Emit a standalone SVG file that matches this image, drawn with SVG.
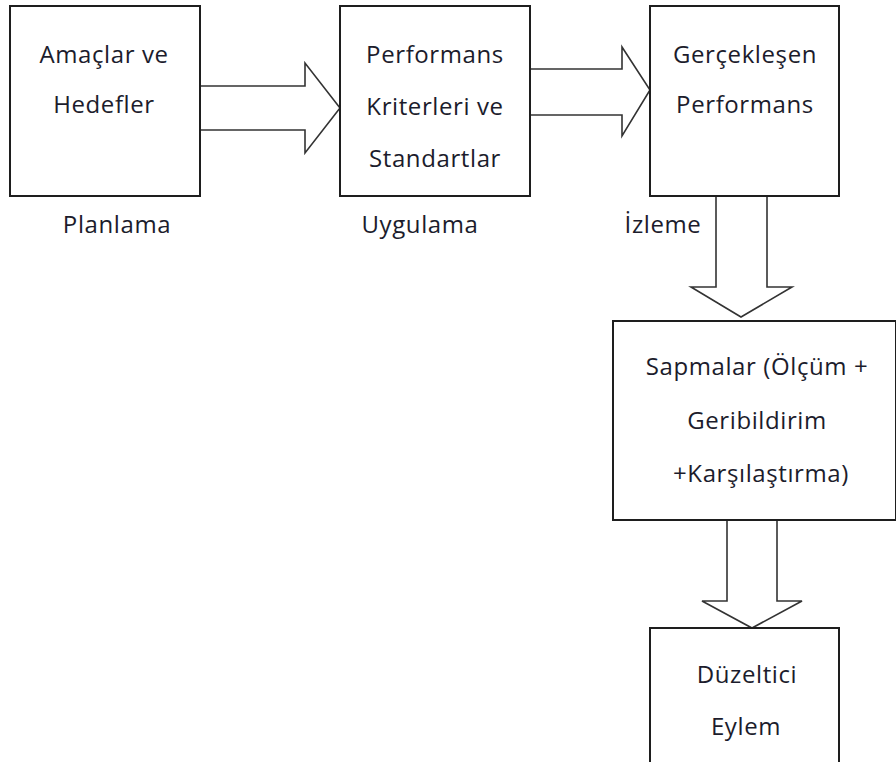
<svg xmlns="http://www.w3.org/2000/svg" width="896" height="762" viewBox="0 0 896 762">
  <style>
    .box { fill: #ffffff; stroke: #1e1e1e; stroke-width: 2; }
    .arrow { fill: #ffffff; stroke: #333333; stroke-width: 1.6; stroke-linejoin: miter; }
    text { font-family: "Open Sans", "Noto Sans", sans-serif; font-size: 24px; letter-spacing: 0.6px; fill: #1c1c2c; text-anchor: middle; }
  </style>
  <rect width="896" height="762" fill="#ffffff"/>

  <!-- block arrows between stages -->
  <g id="connectors">
    <polygon class="arrow" points="200,86 305,86 305,63 340,108 305,153 305,130 200,130"/>
    <polygon class="arrow" points="530,69 622,69 622,47 650,90 622,136 622,115 530,115"/>
    <polygon class="arrow" points="716,196 767,196 767,287 792,287 741,317 691,287 716,287"/>
    <polygon class="arrow" points="727,520 777,520 777,601 802,601 752,628 702,601 727,601"/>
  </g>

  <g id="amaclar">
    <rect class="box" x="10" y="6" width="190" height="190"/>
    <text x="104" y="63">Amaçlar ve</text>
    <text x="104" y="113">Hedefler</text>
  </g>

  <g id="kriterler">
    <rect class="box" x="340" y="6" width="190" height="190"/>
    <text x="435" y="63">Performans</text>
    <text x="435" y="115">Kriterleri ve</text>
    <text x="435" y="167">Standartlar</text>
  </g>

  <g id="gerceklesen">
    <rect class="box" x="650" y="6" width="189" height="190"/>
    <text x="745" y="63">Gerçekleşen</text>
    <text x="745" y="113">Performans</text>
  </g>

  <g id="sapmalar">
    <rect class="box" x="613" y="321" width="283" height="199"/>
    <text x="757" y="375">Sapmalar (Ölçüm +</text>
    <text x="757" y="429">Geribildirim</text>
    <text x="761" y="482">+Karşılaştırma)</text>
  </g>

  <g id="duzeltici">
    <rect class="box" x="650" y="628" width="189" height="140"/>
    <text x="747" y="683">Düzeltici</text>
    <text x="746" y="735">Eylem</text>
  </g>

  <!-- stage labels -->
  <g id="labels">
    <text x="117" y="233">Planlama</text>
    <text x="420" y="233">Uygulama</text>
    <text x="663" y="233">İzleme</text>
  </g>
</svg>
